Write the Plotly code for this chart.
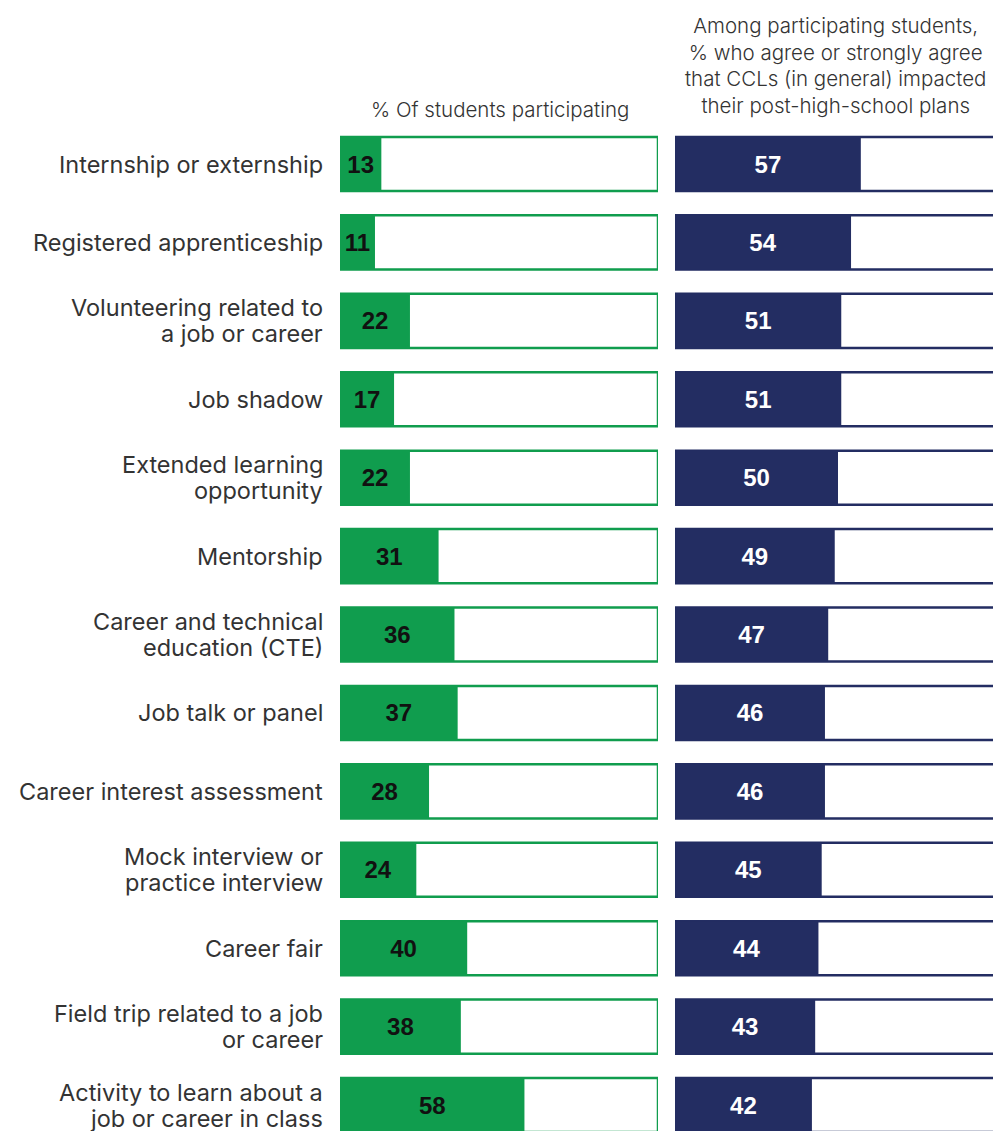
import plotly.graph_objects as go

categories = [
    "Internship or externship",
    "Registered apprenticeship",
    "Volunteering related to<br>a job or career",
    "Job shadow",
    "Extended learning<br>opportunity",
    "Mentorship",
    "Career and technical<br>education (CTE)",
    "Job talk or panel",
    "Career interest assessment",
    "Mock interview or<br>practice interview",
    "Career fair",
    "Field trip related to a job<br>or career",
    "Activity to learn about a<br>job or career in class",
]
participating = [13, 11, 22, 17, 22, 31, 36, 37, 28, 24, 40, 38, 58]
impacted = [57, 54, 51, 51, 50, 49, 47, 46, 46, 45, 44, 43, 42]
full_scale = [100] * len(categories)

GREEN = "#109d4e"
NAVY = "#232d62"
TEXT = "#333333"
W, H = 993, 1131
BAR_W = 0.69
LABEL_FONT = dict(family="Inter, Roboto, sans-serif", size=23.5, color=TEXT)
LINE_GAP = 26  # px between the lines of a two-line category label

fig = go.Figure()

# Left panel: outlined 100% box plus filled share
fig.add_trace(go.Bar(
    y=categories, x=full_scale, orientation="h", width=BAR_W,
    marker=dict(color="white", line=dict(color=GREEN, width=2.5)),
    xaxis="x", yaxis="y", hoverinfo="skip", showlegend=False,
))
fig.add_trace(go.Bar(
    y=categories, x=participating, orientation="h", width=BAR_W,
    marker=dict(color=GREEN, line=dict(width=0)),
    text=[str(v) for v in participating], textposition="inside",
    insidetextanchor="middle", constraintext="none",
    textfont=dict(family="Liberation Sans, Arial", size=24, color="#111111", weight="bold"),
    xaxis="x", yaxis="y", showlegend=False, cliponaxis=False,
))

# Right panel: outlined 100% box plus filled share
fig.add_trace(go.Bar(
    y=categories, x=full_scale, orientation="h", width=BAR_W,
    marker=dict(color="white", line=dict(color=NAVY, width=2.5)),
    xaxis="x2", yaxis="y", hoverinfo="skip", showlegend=False,
))
fig.add_trace(go.Bar(
    y=categories, x=impacted, orientation="h", width=BAR_W,
    marker=dict(color=NAVY, line=dict(width=0)),
    text=[str(v) for v in impacted], textposition="inside",
    insidetextanchor="middle", constraintext="none",
    textfont=dict(family="Liberation Sans, Arial", size=24, color="white", weight="bold"),
    xaxis="x2", yaxis="y", showlegend=False, cliponaxis=False,
))

# Category labels, right-aligned left of the first panel, with tight line spacing
label_annotations = []
for cat in categories:
    lines = cat.split("<br>")
    n_lines = len(lines)
    for k, line in enumerate(lines):
        offset = ((n_lines - 1) / 2 - k) * LINE_GAP
        label_annotations.append(dict(
            text=line, xref="x", yref="y", x=0, y=cat,
            xanchor="right", yanchor="middle", xshift=-16, yshift=offset,
            showarrow=False, font=LABEL_FONT, borderpad=0,
        ))

# Row layout in pixels: first row centre and row pitch
top_center = 164.0
step = 78.42
y_top = -top_center / step
y_bottom = (H - top_center) / step

fig.update_layout(
    width=W, height=H,
    margin=dict(l=0, r=0, t=0, b=0, autoexpand=False),
    paper_bgcolor="white", plot_bgcolor="white",
    barmode="overlay",
    uniformtext=dict(minsize=24, mode="show"),
    font=dict(family="Inter, Roboto, sans-serif", color=TEXT),
    xaxis=dict(domain=[340 / W, 658 / W], range=[0, 100], visible=False,
               fixedrange=True, automargin=False),
    xaxis2=dict(domain=[675 / W, 1.0], range=[0, 318 / 3.26], visible=False,
                anchor="y", fixedrange=True, automargin=False),
    yaxis=dict(
        domain=[0, 1], anchor="x", type="category",
        categoryorder="array", categoryarray=categories,
        range=[y_bottom, y_top], autorange=False, automargin=False,
        showgrid=False, zeroline=False, showline=False, ticks="",
        showticklabels=False,
    ),
    annotations=label_annotations + [
        dict(text="% Of students participating", xref="paper", yref="paper",
             x=500 / W, y=1 - 110 / H, xanchor="center", yanchor="middle",
             showarrow=False,
             font=dict(family="Inter, Roboto, sans-serif", size=20.5, color=TEXT, weight=300)),
        dict(text="Among participating students,<br>% who agree or strongly agree<br>"
                  "that CCLs (in general) impacted<br>their post-high-school plans",
             xref="paper", yref="paper",
             x=835 / W, y=1 - 66 / H, xanchor="center", yanchor="middle",
             showarrow=False, align="center",
             font=dict(family="Inter, Roboto, sans-serif", size=20.5, color=TEXT, weight=300)),
    ],
)

fig.write_html("out.html")
